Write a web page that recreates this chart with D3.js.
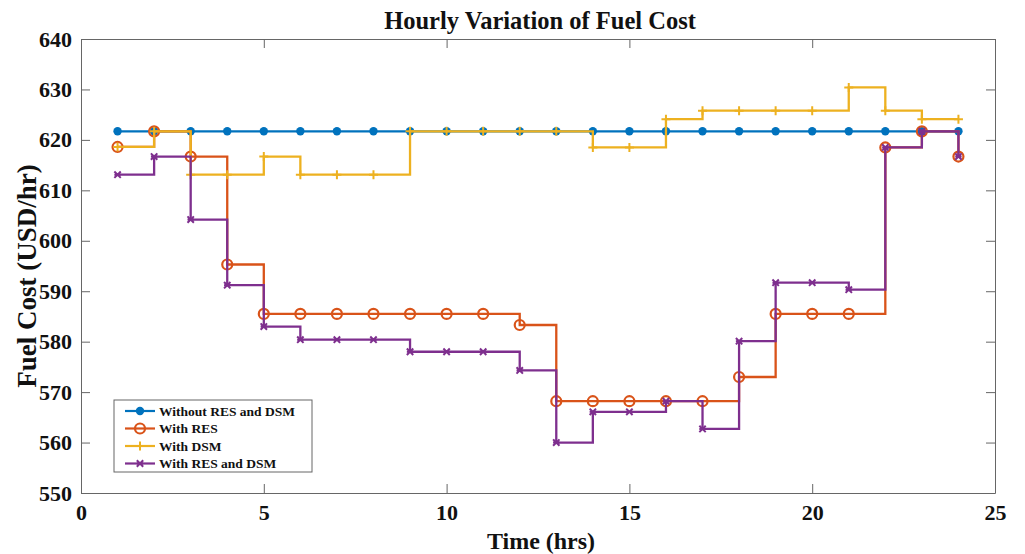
<!DOCTYPE html>
<html>
<head>
<meta charset="utf-8">
<script src="https://cdn.jsdelivr.net/npm/d3@7"></script>
<style>
  body { margin: 0; background: #fff; }
  text { font-family: "Liberation Serif", "Times New Roman", serif; font-weight: bold; fill: #111; }
</style>
</head>
<body>
<svg id="chart" width="1025" height="554"></svg>
<script>
// hours and fuel cost per series (USD/hr)
var hours = d3.range(1, 25);
var withoutResDsm = [621.7, 621.7, 621.7, 621.7, 621.7, 621.7, 621.7, 621.7, 621.7, 621.7, 621.7, 621.7,
                     621.7, 621.7, 621.7, 621.7, 621.7, 621.7, 621.7, 621.7, 621.7, 621.7, 621.7, 621.7];
var withRes = [618.6, 621.7, 616.7, 595.3, 585.5, 585.5, 585.5, 585.5, 585.5, 585.5, 585.5, 583.3,
               568.2, 568.2, 568.2, 568.2, 568.2, 573.0, 585.5, 585.5, 585.5, 618.5, 621.7, 616.7];
var withDsm = [618.6, 621.7, 613.1, 613.1, 616.7, 613.1, 613.1, 613.1, 621.7, 621.7, 621.7, 621.7,
               621.7, 618.5, 618.5, 624.1, 625.8, 625.8, 625.8, 625.8, 630.4, 625.8, 624.1, 624.1];
var withResDsm = [613.1, 616.7, 604.2, 591.2, 583.0, 580.4, 580.4, 580.4, 578.0, 578.0, 578.0, 574.3,
                  560.0, 566.1, 566.1, 568.2, 562.7, 580.1, 591.7, 591.7, 590.3, 618.5, 621.7, 616.7];

var seriesNames = ["Without RES and DSM", "With RES", "With DSM", "With RES and DSM"];
var seriesColors = ["#0072BD", "#D95319", "#EDB120", "#7E2F8E"];
var seriesMarkers = ["dot", "circle", "plus", "cross"];
var xTicks = [0, 5, 10, 15, 20, 25];
var yTicks = [550, 560, 570, 580, 590, 600, 610, 620, 630, 640];

var svg = d3.select("#chart");
var plotLeft = 81, plotRight = 995, plotTop = 39, plotBottom = 493;

var x = d3.scaleLinear().domain([0, 25]).range([plotLeft, plotRight]);
var y = d3.scaleLinear().domain([550, 640]).range([plotBottom, plotTop]);

var axisColor = "#666";
var tickLen = 9;

// axes box with inward ticks on all four sides
var xAxisB = svg.append("g").attr("transform", "translate(0," + plotBottom + ")")
    .call(d3.axisBottom(x).tickValues(xTicks).tickSizeInner(-tickLen).tickSizeOuter(0).tickPadding(10));
var xAxisT = svg.append("g").attr("transform", "translate(0," + plotTop + ")")
    .call(d3.axisTop(x).tickValues(xTicks).tickSizeInner(-tickLen).tickSizeOuter(0).tickFormat(""));
var yAxisL = svg.append("g").attr("transform", "translate(" + plotLeft + ",0)")
    .call(d3.axisLeft(y).tickValues(yTicks).tickSizeInner(-tickLen).tickSizeOuter(0).tickPadding(9));
var yAxisR = svg.append("g").attr("transform", "translate(" + plotRight + ",0)")
    .call(d3.axisRight(y).tickValues(yTicks).tickSizeInner(-tickLen).tickSizeOuter(0).tickFormat(""));

svg.selectAll(".domain, .tick line").attr("stroke", axisColor).attr("stroke-width", 1);
svg.selectAll(".tick text")
    .style("font-family", "'Liberation Serif', serif")
    .style("font-weight", "bold")
    .style("font-size", "22px")
    .attr("fill", "#222");
xAxisB.selectAll(".tick text").attr("dy", "0.75em");

// stairs (MATLAB style: value holds until next hour)
function stairPath(vals) {
    var p = "";
    vals.forEach(function(v, i) {
        if (i === 0) p += "M" + x(hours[i]) + "," + y(v);
        else p += "H" + x(hours[i]) + "V" + y(v);
    });
    return p;
}

function drawMarker(g, type, cx, cy, color) {
    if (type === "dot") {
        g.append("circle").attr("cx", cx).attr("cy", cy).attr("r", 4.2).attr("fill", color);
    } else if (type === "circle") {
        g.append("circle").attr("cx", cx).attr("cy", cy).attr("r", 5)
            .attr("fill", "none").attr("stroke", color).attr("stroke-width", 2.2);
    } else if (type === "plus") {
        var s = 4.5;
        g.append("path").attr("d", "M" + (cx - s) + "," + cy + "H" + (cx + s) + "M" + cx + "," + (cy - s) + "V" + (cy + s))
            .attr("stroke", color).attr("stroke-width", 2).attr("fill", "none");
    } else {
        var s = 3.2;
        g.append("path").attr("d", "M" + (cx - s) + "," + (cy - s) + "L" + (cx + s) + "," + (cy + s) +
                "M" + (cx - s) + "," + (cy + s) + "L" + (cx + s) + "," + (cy - s) +
                "M" + (cx - s) + "," + cy + "H" + (cx + s))
            .attr("stroke", color).attr("stroke-width", 2).attr("fill", "none");
    }
}

var allSeries = [withoutResDsm, withRes, withDsm, withResDsm];

allSeries.forEach(function(vals, k) {
    var g = svg.append("g").attr("class", "series");
    g.append("path")
        .attr("d", stairPath(vals))
        .attr("fill", "none")
        .attr("stroke", seriesColors[k])
        .attr("stroke-width", 2.3);
    vals.forEach(function(v, i) {
        drawMarker(g, seriesMarkers[k], x(hours[i]), y(v), seriesColors[k]);
    });
});

// title and axis labels
svg.append("text")
    .attr("x", (plotLeft + plotRight) / 2 + 2).attr("y", 29)
    .attr("text-anchor", "middle")
    .style("font-size", "24.5px")
    .text("Hourly Variation of Fuel Cost");

svg.append("text")
    .attr("x", (plotLeft + plotRight) / 2 + 3).attr("y", 549)
    .attr("text-anchor", "middle")
    .style("font-size", "24px")
    .text("Time (hrs)");

svg.append("text")
    .attr("transform", "translate(36,276) rotate(-90)")
    .attr("text-anchor", "middle")
    .style("font-size", "27px")
    .text("Fuel Cost (USD/hr)");

// legend
var legend = svg.append("g").attr("transform", "translate(114,400)");
legend.append("rect")
    .attr("width", 198).attr("height", 72)
    .attr("fill", "#fff").attr("stroke", "#666").attr("stroke-width", 1);

seriesNames.forEach(function(name, k) {
    var ly = 11 + k * 17.5;
    legend.append("line")
        .attr("x1", 11).attr("x2", 41).attr("y1", ly).attr("y2", ly)
        .attr("stroke", seriesColors[k]).attr("stroke-width", 2.2);
    drawMarker(legend, seriesMarkers[k], 26, ly, seriesColors[k]);
    legend.append("text")
        .attr("x", 45).attr("y", ly + 4.5)
        .style("font-size", "13.5px")
        .text(name);
});
</script>
</body>
</html>
